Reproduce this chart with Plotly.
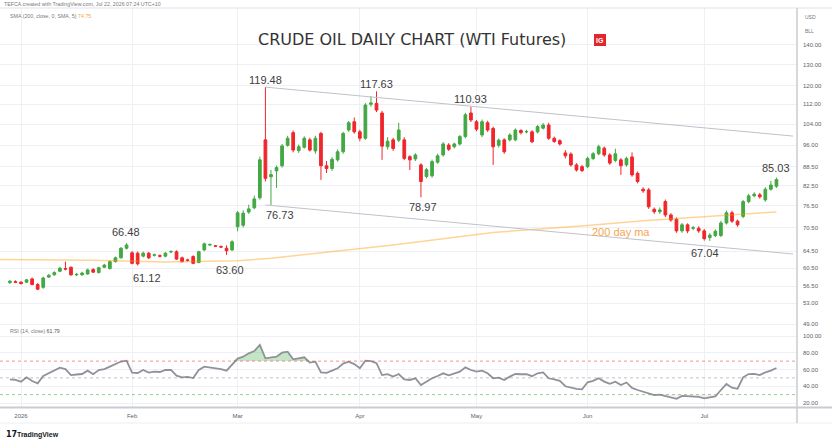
import math
import pandas as pd
import plotly.graph_objects as go

# ---------------- data ----------------
holidays = ["2026-01-01", "2026-01-19", "2026-02-16", "2026-04-03",
            "2026-05-25", "2026-06-19", "2026-07-03"]
days = [d for d in pd.bdate_range("2025-12-30", "2026-07-21").strftime("%Y-%m-%d")
        if d not in holidays]
dates = [d + " 12:00" for d in days]

open_ = [57.3, 57.5, 57.4, 57.4, 58.1, 56.9, 56.3, 58.5, 59.0, 59.8,
         60.4, 60.7, 59.0, 59.0, 59.2, 60.2, 59.5, 60.7, 60.4, 62.0,
         62.9, 65.2, 64.1, 64.0, 63.3, 64.0, 63.5, 63.4, 63.3, 64.3,
         64.35, 62.9, 62.4, 63.2, 61.8, 64.8, 66.0, 65.8, 65.6, 65.2,
         64.8, 70.7, 71.1, 74.7, 75.9, 78.8, 98.0, 85.3, 87.2, 88.9,
         96.0, 100.7, 94.1, 95.3, 98.0, 94.0, 100.4, 88.9, 88.0, 90.9,
         93.7, 101.7, 104.9, 101.0, 98.6, 112.0, 112.4, 108.4, 95.5, 98.0,
         97.9, 98.0, 92.0, 91.2, 89.2, 85.4, 85.6, 90.1, 92.6, 96.1,
         95.5, 96.5, 99.2, 108.4, 104.9, 99.8, 104.5, 102.3, 96.0, 98.0,
         98.0, 98.0, 101.5, 101.0, 101.0, 101.0, 102.4, 103.6, 98.6, 97.7,
         93.3, 92.9, 89.2, 88.6, 88.6, 91.4, 93.0, 95.0, 92.6, 90.7,
         90.9, 89.2, 91.9, 86.4, 81.4, 81.2, 75.5, 74.8, 77.7, 73.9,
         72.7, 69.6, 71.2, 70.3, 70.3, 69.6, 67.9, 68.4, 68.4, 71.7,
         74.5, 72.2, 73.5, 77.7, 79.4, 79.7, 78.2, 81.4, 82.3]
high = [57.9, 57.8, 57.6, 58.1, 58.4, 57.2, 58.6, 59.2, 59.8, 60.8,
        62.0, 60.9, 59.4, 59.7, 60.4, 60.5, 60.8, 61.5, 62.3, 63.2,
        65.5, 66.48, 64.5, 64.4, 64.4, 64.3, 63.9, 63.7, 64.3, 64.7,
        64.7, 63.2, 62.7, 63.5, 64.6, 66.6, 66.4, 66.0, 65.9, 65.9,
        67.2, 75.0, 75.2, 76.8, 79.5, 92.0, 119.48, 87.5, 89.0, 96.5,
        99.5, 101.5, 96.3, 99.3, 98.8, 99.5, 101.0, 90.5, 91.8, 94.5,
        101.0, 105.2, 106.6, 101.8, 112.5, 115.5, 117.63, 109.3, 99.0, 98.8,
        104.5, 99.0, 92.5, 93.2, 89.8, 88.2, 91.0, 93.0, 97.2, 96.8,
        97.0, 99.8, 108.5, 110.93, 105.6, 105.8, 105.3, 103.0, 98.5, 98.6,
        100.5, 102.3, 102.0, 101.8, 101.6, 103.6, 104.4, 104.5, 99.2, 98.2,
        94.3, 93.5, 89.8, 89.2, 92.0, 93.6, 96.2, 95.6, 93.2, 94.8,
        91.5, 92.0, 93.5, 87.0, 82.0, 81.8, 76.0, 76.0, 78.3, 74.4,
        73.2, 71.7, 71.6, 70.9, 70.8, 70.1, 69.0, 70.0, 72.3, 75.1,
        75.1, 72.6, 78.2, 80.0, 80.5, 80.3, 82.0, 84.0, 85.03]
low = [57.0, 57.2, 56.9, 57.2, 56.7, 55.7, 56.0, 58.3, 58.8, 59.6,
       60.0, 58.8, 58.7, 58.8, 59.0, 59.4, 59.3, 60.5, 60.2, 61.8,
       62.7, 64.9, 61.4, 61.12, 63.0, 62.6, 63.2, 63.0, 63.0, 64.0,
       62.4, 61.8, 62.0, 61.4, 61.6, 64.5, 65.8, 65.5, 65.3, 63.6,
       64.5, 69.5, 70.5, 74.2, 75.5, 78.3, 83.8, 76.73, 81.8, 88.3,
       95.5, 93.5, 93.3, 94.8, 93.8, 93.0, 84.3, 86.5, 87.2, 90.3,
       93.0, 101.0, 100.3, 97.5, 98.0, 111.0, 108.8, 90.9, 94.5, 94.0,
       97.2, 90.8, 87.5, 90.5, 78.97, 84.8, 85.0, 89.6, 92.0, 94.0,
       94.9, 95.9, 98.6, 104.8, 101.2, 99.0, 101.0, 89.2, 95.2, 93.0,
       97.4, 97.5, 100.0, 100.4, 96.8, 100.4, 101.9, 98.0, 96.9, 95.9,
       91.4, 88.6, 87.0, 86.8, 88.1, 90.8, 92.5, 92.0, 89.2, 90.1,
       85.9, 88.6, 85.3, 83.2, 80.3, 75.6, 74.2, 74.2, 73.3, 72.0,
       69.1, 69.1, 69.0, 69.8, 69.1, 67.1, 67.04, 68.0, 68.0, 71.3,
       71.7, 70.7, 73.0, 77.2, 79.0, 78.6, 77.7, 81.0, 81.8]
close = [57.6, 57.4, 57.1, 57.9, 56.9, 55.9, 58.3, 58.9, 59.5, 60.5,
         60.3, 59.0, 59.1, 59.4, 60.1, 59.6, 60.6, 61.2, 62.0, 62.9,
         65.2, 66.0, 61.6, 61.5, 64.0, 62.9, 63.6, 63.3, 64.0, 64.4,
         62.6, 62.0, 62.3, 61.6, 64.35, 66.3, 66.1, 65.7, 65.5, 64.6,
         66.8, 74.5, 74.4, 75.6, 78.5, 90.9, 84.8, 86.0, 88.3, 95.8,
         98.6, 94.3, 95.5, 98.6, 94.3, 98.6, 88.9, 88.0, 91.1, 93.7,
         100.4, 104.5, 101.0, 98.6, 111.7, 112.6, 109.6, 95.7, 97.5, 94.9,
         101.7, 91.4, 90.9, 92.6, 83.8, 87.6, 90.3, 92.3, 96.5, 94.6,
         96.5, 99.2, 107.7, 105.6, 102.0, 104.9, 101.7, 95.5, 97.9, 93.7,
         99.8, 101.7, 100.7, 101.1, 97.3, 103.0, 103.6, 98.6, 97.4, 96.5,
         92.3, 89.2, 87.5, 87.3, 91.4, 93.0, 95.5, 92.6, 89.8, 93.0,
         88.9, 91.4, 85.9, 83.8, 80.9, 76.2, 74.8, 75.3, 73.9, 72.5,
         69.6, 71.2, 69.6, 70.4, 69.6, 67.6, 68.5, 69.5, 71.7, 74.5,
         72.2, 71.2, 77.7, 79.4, 79.9, 79.1, 81.4, 82.7, 84.4]
rsi = [48.3, 47.5, 45.5, 50.7, 46.3, 43.5, 52.2, 55.4, 58.5, 62.2,
       60.5, 53.4, 54.0, 54.6, 58.6, 54.3, 59.4, 60.5, 63.4, 66.5,
       69.5, 70.5, 56.2, 55.8, 59.4, 56.2, 57.4, 57.0, 59.4, 59.6,
       52.6, 50.7, 51.2, 49.8, 59.4, 63.4, 62.6, 61.4, 60.5, 58.6,
       65.4, 73.0, 75.3, 79.3, 82.1, 89.3, 73.4, 74.0, 75.3, 80.1,
       81.3, 72.2, 73.0, 74.6, 68.2, 69.4, 56.6, 56.0, 58.6, 61.4,
       67.0, 69.4, 66.5, 61.4, 70.5, 70.0, 67.5, 53.4, 54.5, 51.5,
       54.6, 48.3, 47.5, 49.5, 41.5, 45.5, 49.5, 52.2, 55.4, 53.0,
       55.4, 57.5, 62.6, 59.4, 57.4, 58.6, 55.5, 49.5, 50.3, 47.5,
       51.5, 54.6, 54.3, 54.3, 52.0, 55.5, 56.6, 49.5, 48.3, 46.5,
       40.0, 38.0, 36.8, 36.3, 44.7, 46.5, 49.5, 45.5, 43.0, 45.5,
       41.5, 44.5, 38.0, 35.5, 33.5, 30.7, 29.5, 30.0, 28.4, 27.5,
       25.0, 28.4, 27.8, 28.0, 27.2, 25.6, 26.4, 27.8, 35.5, 42.7,
       38.3, 37.0, 50.7, 54.6, 54.8, 53.4, 56.6, 58.6, 61.79]

ma_dates = ["2025-12-26 12:00", "2026-01-22 12:00", "2026-02-10 12:00", "2026-03-02 12:00",
            "2026-03-10 12:00", "2026-03-20 12:00", "2026-04-10 12:00", "2026-05-06 12:00",
            "2026-06-01 12:00", "2026-06-15 12:00", "2026-07-01 12:00", "2026-07-21 12:00"]
ma_values = [62.5, 62.3, 61.9, 62.2, 62.8, 63.9, 66.0, 69.2, 71.0, 72.3, 73.4, 74.75]

channel_dates = ["2026-03-09 12:00", "2026-07-24 12:00"]
channel_upper = [119.48, 99.4]
channel_lower = [76.73, 63.8]

price_ticks = [49, 53, 56.5, 60.5, 64.5, 70.5, 76.5, 82.5, 88.5, 96, 104, 112, 120, 130, 140]
rsi_ticks = [20, 40, 60, 80, 100]
month_ticks = ["2026-01-02 12:00", "2026-02-02 12:00", "2026-03-02 12:00", "2026-04-01 12:00",
               "2026-05-01 12:00", "2026-06-01 12:00", "2026-07-01 12:00"]
month_labels = ["2026", "Feb", "Mar", "Apr", "May", "Jun", "Jul"]

# labelled extremes: (date, price, text, is_high)
swing_labels = [("2026-01-30 12:00", 66.48, "66.48", True),
                ("2026-02-03 12:00", 61.12, "61.12", False),
                ("2026-02-26 12:00", 63.60, "63.60", False),
                ("2026-03-09 12:00", 119.48, "119.48", True),
                ("2026-03-10 12:00", 76.73, "76.73", False),
                ("2026-04-07 12:00", 117.63, "117.63", True),
                ("2026-04-17 12:00", 78.97, "78.97", False),
                ("2026-04-30 12:00", 110.93, "110.93", True),
                ("2026-07-02 12:00", 67.04, "67.04", False),
                ("2026-07-21 12:00", 85.03, "85.03", True)]
label_shift = {"66.48": (-1, 3), "61.12": (9, -5), "63.60": (3, -7), "119.48": (0, -1),
               "76.73": (9, -2), "117.63": (0, -1), "78.97": (2, -2), "110.93": (0, 0),
               "67.04": (-5, -4), "85.03": (0, 2)}

# ---------------- figure ----------------
W, H = 832, 446
PLOT_R = 797
TOP, BOT = 8, 408


def px(x):
    return x / PLOT_R


def py(y):
    return (BOT - y) / (BOT - TOP)


GREEN = "#43a843"
RED = "#f0262b"
GRID = "#eef0f5"
AXTXT = "#5d606b"

fig = go.Figure()

fig.add_trace(go.Candlestick(
    x=dates, open=open_, high=high, low=low, close=close,
    increasing=dict(line=dict(color=GREEN, width=1), fillcolor=GREEN),
    decreasing=dict(line=dict(color=RED, width=1), fillcolor=RED),
    whiskerwidth=0, xaxis="x", yaxis="y", showlegend=False))

fig.add_trace(go.Scatter(x=ma_dates, y=ma_values, mode="lines",
                         line=dict(color="rgba(255,152,0,0.42)", width=1.5),
                         xaxis="x", yaxis="y", showlegend=False))

for vals in (channel_upper, channel_lower):
    fig.add_trace(go.Scatter(x=channel_dates, y=vals, mode="lines",
                             line=dict(color="#bfc2c9", width=1),
                             xaxis="x", yaxis="y", showlegend=False))

# RSI fills
fig.add_trace(go.Scatter(x=dates, y=[70] * len(dates), mode="lines", line=dict(width=0),
                         xaxis="x2", yaxis="y2", showlegend=False))
fig.add_trace(go.Scatter(x=dates, y=[max(v, 70) for v in rsi], mode="lines", line=dict(width=0),
                         fill="tonexty", fillcolor="rgba(76,175,80,0.32)",
                         xaxis="x2", yaxis="y2", showlegend=False))
fig.add_trace(go.Scatter(x=dates, y=[30] * len(dates), mode="lines", line=dict(width=0),
                         xaxis="x2", yaxis="y2", showlegend=False))
fig.add_trace(go.Scatter(x=dates, y=[min(v, 30) for v in rsi], mode="lines", line=dict(width=0),
                         fill="tonexty", fillcolor="rgba(242,54,69,0.08)",
                         xaxis="x2", yaxis="y2", showlegend=False))
fig.add_trace(go.Scatter(x=dates, y=rsi, mode="lines",
                         line=dict(color="#909299", width=1.8),
                         xaxis="x2", yaxis="y2", showlegend=False))

rangebreaks = [dict(bounds=["sat", "mon"]), dict(values=holidays)]
xrange = ["2025-12-26 17:17", "2026-07-27 04:48"]

shapes = []
for lvl, col in ((70, "rgba(242,54,69,0.55)"), (50, "rgba(120,123,134,0.45)"), (30, "rgba(76,175,80,0.6)")):
    shapes.append(dict(type="line", xref="x2 domain", yref="y2", x0=0, x1=1, y0=lvl, y1=lvl,
                       line=dict(color=col, width=1, dash="3px,3px")))
# frame lines
shapes.append(dict(type="line", xref="paper", yref="paper", x0=0, x1=W / PLOT_R, y0=1, y1=1,
                   line=dict(color="#e0e3eb", width=1)))
shapes.append(dict(type="line", xref="paper", yref="paper", x0=0, x1=W / PLOT_R, y0=py(407.5), y1=py(407.5),
                   line=dict(color="#c9cbd1", width=2)))
shapes.append(dict(type="line", xref="paper", yref="paper", x0=0, x1=W / PLOT_R, y0=py(423), y1=py(423),
                   line=dict(color="#eceef2", width=1)))
shapes.append(dict(type="line", xref="paper", yref="paper", x0=1, x1=1, y0=py(423), y1=1,
                   line=dict(color="#c9cbd1", width=1.5)))
# IG logo box
shapes.append(dict(type="rect", xref="paper", yref="paper", x0=px(594), x1=px(606), y0=py(46), y1=py(34),
                   fillcolor="#e3262d", line=dict(width=0)))

LABEL_FONT = dict(family="Liberation Sans, Arial", size=11, color="#3d3d3d")
annotations = []
for d, p, t, is_high in swing_labels:
    dx, dy = label_shift[t]
    annotations.append(dict(x=d, y=math.log10(p), xref="x", yref="y", text=t, showarrow=False,
                            yanchor="bottom" if is_high else "top", xanchor="center",
                            xshift=dx, yshift=dy, font=LABEL_FONT))
annotations.append(dict(x="2026-06-09 12:00", y=math.log10(69.3), xref="x", yref="y",
                        text="200 day ma", showarrow=False, xanchor="center", yanchor="middle",
                        font=dict(family="Liberation Sans, Arial", size=11, color="#f5a54f")))


def note(x, y, text, size, color, family="Liberation Sans, Arial", xanchor="left"):
    return dict(x=px(x), y=py(y), xref="paper", yref="paper", xanchor=xanchor, yanchor="middle",
                showarrow=False, text=text, font=dict(family=family, size=size, color=color))


annotations += [
    note(2, 4, "TEFCA created with TradingView.com, Jul 22, 2026 07:24 UTC+10", 5.3, "#7a7a7a"),
    note(8, 16, f"SMA (200, close, 0, SMA, 5) <span style='color:#f7a54a'>{ma_values[-1]:.2f}</span>",
         5.3, "#7a7a7a"),
    note(412, 40, "CRUDE OIL DAILY CHART (WTI Futures)", 16, "#333333", "DejaVu Sans", "center"),
    note(600, 40.5, "<b>IG</b>", 7, "white", "Liberation Sans, Arial", "center"),
    note(8, 331, f"RSI (14, close) <span style='color:#555'>{rsi[-1]:.2f}</span>", 5.3, "#7a7a7a"),
    note(803, 17, "USD", 5, "#777"),
    note(803, 31, "BLL", 5, "#777"),
    note(4, 435, "<b>17</b>", 8, "#131722", "DejaVu Sans"),
    note(15, 435, "<b>TradingView</b>", 7, "#131722"),
]

axis_common = dict(type="date", rangebreaks=rangebreaks, range=xrange, tickmode="array",
                   tickvals=month_ticks, ticktext=month_labels, showgrid=True, gridcolor=GRID,
                   gridwidth=1, zeroline=False, showline=False, ticks="")

fig.update_layout(
    width=W, height=H, margin=dict(l=0, r=W - PLOT_R, t=TOP, b=H - BOT),
    paper_bgcolor="white", plot_bgcolor="white", showlegend=False,
    xaxis=dict(**axis_common, domain=[0, 1], anchor="y", showticklabels=False,
               rangeslider=dict(visible=False)),
    xaxis2=dict(**axis_common, domain=[0, 1], anchor="y2", matches="x", showticklabels=True,
                tickfont=dict(family="Liberation Sans, Arial", size=6, color=AXTXT),
                ticklabelstandoff=3),
    yaxis=dict(domain=[py(327), 1], anchor="x", type="log",
               range=[1.6857, 2.2065], side="right", tickmode="array",
               tickvals=price_ticks, ticktext=[f"{v:.2f}" for v in price_ticks],
               tickfont=dict(family="Liberation Sans, Arial", size=6, color=AXTXT),
               showgrid=True, gridcolor=GRID, zeroline=False, showline=False, ticks="",
               ticklabelstandoff=5),
    yaxis2=dict(domain=[0, py(328)], anchor="x2", range=[14.03, 109.55], side="right",
                tickmode="array", tickvals=rsi_ticks, ticktext=[f"{v:.2f}" for v in rsi_ticks],
                tickfont=dict(family="Liberation Sans, Arial", size=6, color=AXTXT),
                showgrid=True, gridcolor=GRID, zeroline=False, showline=False, ticks="",
                ticklabelstandoff=5),
    shapes=shapes, annotations=annotations,
)

fig.write_html("out.html")
